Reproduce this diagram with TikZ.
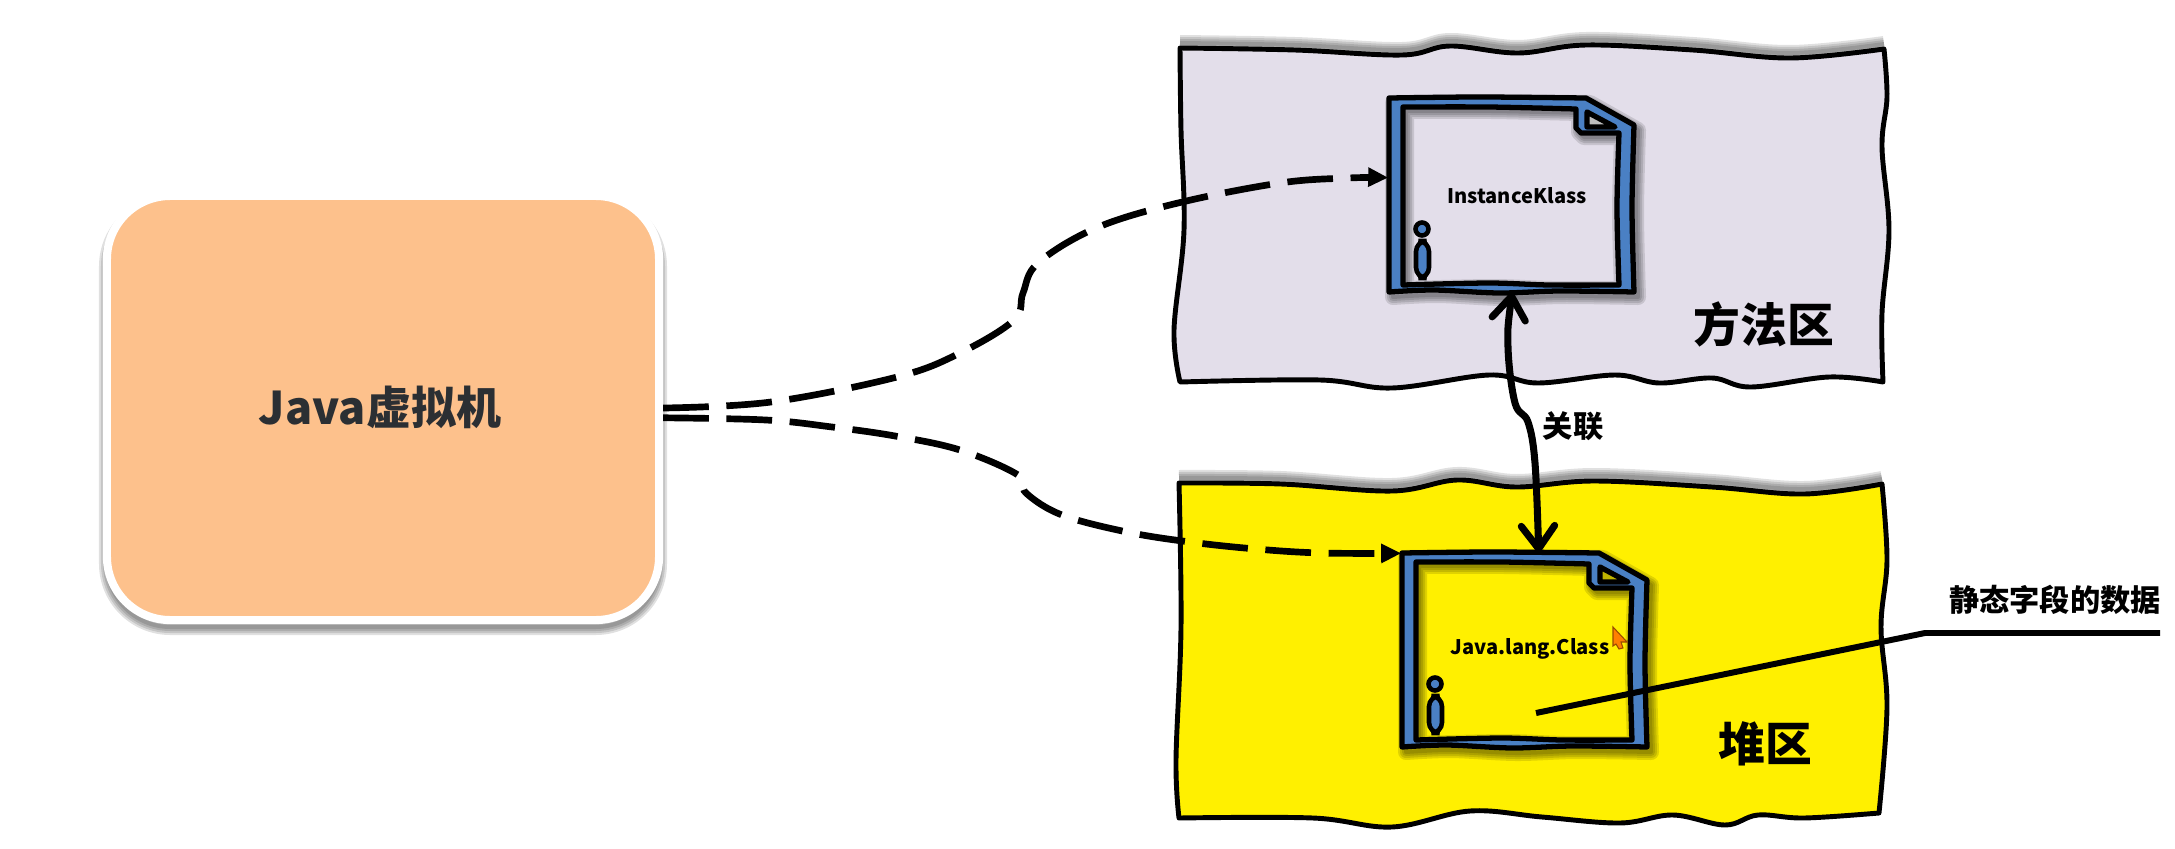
\documentclass[tikz,border=0pt]{standalone}
\usepackage{fontspec}
\setmainfont{Noto Sans CJK SC}
\usetikzlibrary{arrows.meta,positioning}
\definecolor{vmorange}{HTML}{FDC18C}
\definecolor{methodgray}{HTML}{E3DEEA}
\definecolor{heapyellow}{HTML}{FFF000}
\definecolor{docblue}{HTML}{4A80C4}
\definecolor{inkgray}{HTML}{2B2F33}
\tikzset{
    vmbox/.style={draw=white, fill=vmorange, line width=2.3pt, rounded corners=18pt, minimum width=157pt, minimum height=120.6pt, inner sep=0pt},
    vmlabel/.style={inner sep=0pt, text=inkgray, font=\bfseries\fontsize{12.8}{15}\selectfont},
    areaedge/.style={draw=black, line width=1.4pt, line join=round},
    docedge/.style={draw=black, line width=1.5pt, line join=round},
    pinedge/.style={draw=black, line width=1.3pt, fill=docblue},
    docbox/.style={minimum width=70pt, minimum height=55.2pt, inner sep=0pt},
    doclabel/.style={inner sep=0pt, text=black, font=\bfseries\fontsize{5.7}{8}\selectfont},
    arealabel/.style={inner sep=0pt, text=black, font=\bfseries\fontsize{13.3}{15}\selectfont},
    notelabel/.style={inner sep=0pt, text=black, font=\bfseries\fontsize{8.6}{10}\selectfont},
    dashlink/.style={draw=black, line width=1.9pt, dash pattern=on 13pt off 5pt, -{Triangle[length=5.7pt,width=5.2pt]}},
    linkarrow/.style={draw=black, line width=2pt, line cap=round, {Straight Barb[round,length=6.5pt,width=9.5pt]}-{Straight Barb[round,length=6.5pt,width=9.5pt]}},
    leader/.style={draw=black, line width=1.7pt, line join=miter}
}
% soft shadow: stacked strokes, #1 is the offset, #2 the path
\newcommand{\softshadow}[2]{
    \foreach \w in {16,12,8,4}{
        \draw[black, opacity=.12, line width=\w*.2845pt, line join=round, shift={#1}] #2;
    }
}
\def\docouter{plot[smooth,tension=.5] coordinates {(0,0) (90,-1) (197,0)} -- (245,27) -- plot[smooth,tension=.5] coordinates {(245,27) (243,110) (245,194)} -- plot[smooth,tension=.5] coordinates {(245,194) (170,193) (110,195) (45,192) (0,194)} -- cycle}
\def\docinner{plot[smooth,tension=.5] coordinates {(14,9) (100,9) (187,11)} -- (187,30) -- (192,35) -- (230,35) -- plot[smooth,tension=.5] coordinates {(230,35) (228,110) (230,187)} -- plot[smooth,tension=.5] coordinates {(230,187) (160,187) (100,185) (14,187)} -- cycle}
% one document icon: name, top left corner, fill, fold colour
\newcommand{\docicon}[4]{
    \begin{scope}[shift={#2}]
        \softshadow{(4,5)}{\docouter}
        \draw[docedge, fill=docblue] \docouter;
        \fill[#3] \docinner;
        \begin{scope}
            \clip \docinner;
            \softshadow{(3,4)}{\docinner}
        \end{scope}
        \draw[docedge] \docinner;
        \draw[docedge, fill=#4] (198,14) -- (226,29) -- (198,29) -- cycle;
        \draw[pinedge, rounded corners=3pt] (27,143) rectangle (40,180);
        \draw[pinedge] (33,131) circle (6.5);
        \node[docbox] (#1) at (123,97) {};
    \end{scope}
}
\def\methodtop{plot[smooth,tension=.6] coordinates {(1180,48) (1295,50) (1402,55) (1450,46) (1518,53) (1586,45) (1693,50) (1790,58) (1884,49)}}
\def\heaptop{plot[smooth,tension=.6] coordinates {(1179,483) (1281,484) (1392,491) (1457,480) (1516,487) (1594,481) (1712,487) (1804,494) (1882,484)}}
\begin{document}
\begin{tikzpicture}[x=0.01cm, y=-0.01cm]
    \useasboundingbox (0,0) rectangle (2175,848);
    % left box
    \softshadow{(0,7)}{(107,196) [rounded corners=18pt] rectangle (659,620)}
    \node[vmbox] (vm) at (383,408) {};
    \node[vmlabel] (vmtext) at (380,407) {Java虚拟机};
    % the two areas
    \softshadow{(0,-5)}{\methodtop}
    \draw[areaedge, fill=methodgray] \methodtop
        -- plot[smooth,tension=.6] coordinates {(1884,49) (1887,97) (1882,147) (1889,230) (1882,313) (1883,382)}
        -- plot[smooth,tension=.6] coordinates {(1883,382) (1829,377) (1751,387) (1712,378) (1659,383) (1615,375) (1538,383) (1489,375) (1392,388) (1320,380) (1180,382)}
        -- plot[smooth,tension=.6] coordinates {(1180,382) (1174,330) (1184,230) (1181,130) (1180,48)} -- cycle;
    \softshadow{(0,-5)}{\heaptop}
    \draw[areaedge, fill=heapyellow] \heaptop
        -- plot[smooth,tension=.6] coordinates {(1882,484) (1887,560) (1881,627) (1887,707) (1879,813)}
        -- plot[smooth,tension=.6] coordinates {(1879,813) (1804,818) (1758,815) (1725,825) (1673,815) (1620,823) (1542,817) (1470,811) (1392,827) (1313,818) (1179,818)}
        -- plot[smooth,tension=.6] coordinates {(1179,818) (1176,760) (1181,627) (1179,483)} -- cycle;
    \node[arealabel] (methodname) at (1764,324) {方法区};
    \node[arealabel] (heapname) at (1765,744) {堆区};
    % documents
    \docicon{klass}{(1389,98)}{methodgray}{gray!50}
    \docicon{javaclass}{(1402,553)}{heapyellow}{heapyellow!75!black}
    \node[doclabel] (klasstext) at (1517,196) {InstanceKlass};
    \node[doclabel] (classtext) at (1530,649) {Java.lang.Class};
    % mouse pointer
    \draw[fill=orange, draw=orange!60!black, line width=.3pt] (1613,627) -- (1627,642) -- (1621,642) -- (1623,648) -- (1619,649) -- (1616,644) -- (1613,646) -- cycle;
    % links
    \draw[dashlink] plot[smooth,tension=.6] coordinates {(vm.east) (771,402) (897,377) (960,353) (1014,320) (1023,293) (1038,263) (1096,228) (1178,203) (1280,183) (1348,178) (klass.172)};
    \draw[dashlink] plot[smooth,tension=.6] coordinates {(vm.358.2) (766,420) (832,427) (895,436) (960,450) (1018,475) (1026,493) (1062,515) (1127,532) (1190,542) (1256,549) (1321,553) (javaclass.142.5)};
    \draw[linkarrow] plot[smooth,tension=.6] coordinates {(klass.south) (1508,347) (1515,403) (1528,422) (1535,463) (javaclass.82)};
    \node[notelabel] (linkname) at (1573,426) {关联};
    % static field note
    \coordinate (fieldend) at (1536,713);
    \coordinate (fieldbend) at (1925,633);
    \coordinate (fieldtail) at (2160,633);
    \draw[leader] (fieldend) -- (fieldbend) -- (fieldtail);
    \node[notelabel] (fieldname) at (2055,600) {静态字段的数据};
\end{tikzpicture}
\end{document}
